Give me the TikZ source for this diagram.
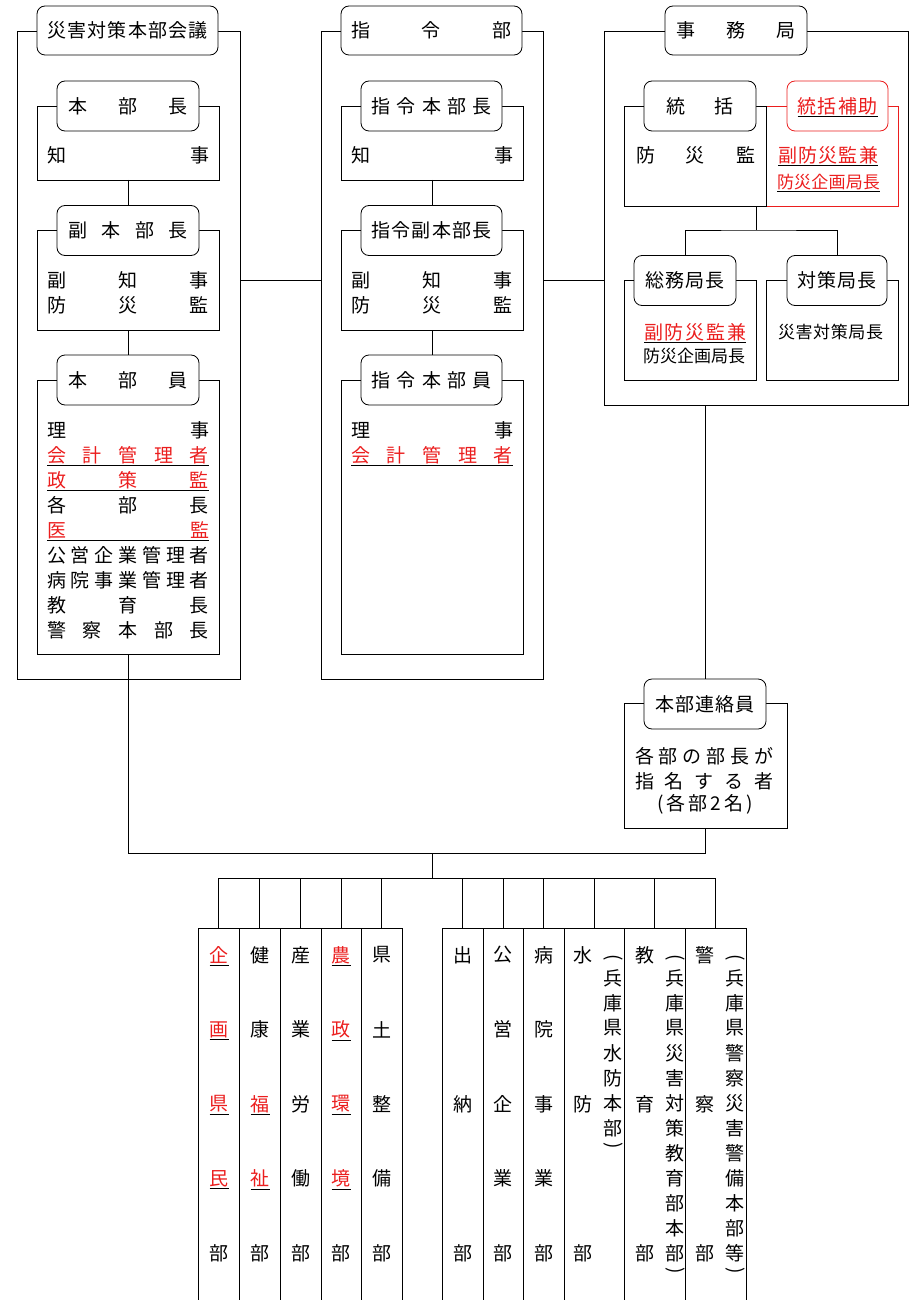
\documentclass[tikz,border=0pt]{standalone}
\usepackage{fontspec}
\newfontfamily\jpf{Noto Sans CJK JP}
\definecolor{jred}{RGB}{235,30,30}
\newcommand{\jsp}[2]{\hbox to #1{\jspi#2\jspend}}
\let\jspend\relax
\def\jspi#1{\ifx#1\jspend\else#1\expandafter\jspj\fi}
\def\jspj#1{\ifx#1\jspend\else\hfil#1\expandafter\jspj\fi}
\begin{document}
\begin{tikzpicture}[x=1pt,y=-1pt,line width=0.8pt,
 box/.style={draw,inner sep=0pt,outer sep=0pt},
 tag/.style={draw,fill=white,rounded corners=8pt,inner sep=0pt,outer sep=0pt,minimum height=50pt},
 txt/.style={inner sep=0pt,outer sep=0pt,font=\jpf\fontsize{19pt}{25pt}\selectfont},
 sm/.style={font=\jpf\fontsize{17pt}{22pt}\selectfont},
 rt/.style={text=jred},
 ul/.style={append after command={([yshift=-2pt]\tikzlastnode.south west) edge[draw=black,line width=0.8pt] ([yshift=-2pt]\tikzlastnode.south east)}},
 redu/.style={rt,ul},
 blk/.style={}]
\useasboundingbox (0,0) rectangle (921,1300);
% frames
\node[box,minimum width=223pt,minimum height=648pt] (F1) at (128.5,355) {};
\node[box,minimum width=222pt,minimum height=648pt] (F2) at (432,355) {};
\node[box,minimum width=304pt,minimum height=374pt] (F3) at (756,218) {};
% left rects
\node[box,minimum width=182pt,minimum height=74pt] (R1a) at (128,143) {};
\node[box,minimum width=182pt,minimum height=100pt] (R1b) at (128,280) {};
\node[box,minimum width=182pt,minimum height=274pt] (R1c) at (128,517) {};
% middle rects
\node[box,minimum width=182pt,minimum height=74pt] (R2a) at (432,143) {};
\node[box,minimum width=182pt,minimum height=100pt] (R2b) at (432,280) {};
\node[box,minimum width=182pt,minimum height=274pt] (R2c) at (432,517) {};
% right rects
\node[box,draw=jred,minimum width=132pt,minimum height=100pt] (R3b) at (832,156) {};
\node[box,minimum width=142pt,minimum height=100pt] (R3a) at (695,156) {};
\node[box,minimum width=132pt,minimum height=100pt] (R3c) at (690,330) {};
\node[box,minimum width=132pt,minimum height=100pt] (R3d) at (832,330) {};
\node[box,minimum width=163pt,minimum height=125pt] (R4) at (705.5,765.5) {};
% connectors
\draw (R1a.south) -- (128,206) coordinate (k1);
\draw (R1b.south) -- (128,355) coordinate (k2);
\draw (R2a.south) -- (432,206) coordinate (k3);
\draw (R2b.south) -- (432,355) coordinate (k4);
\draw (F1.east |- R1b.center) -- (F2.west |- R1b.center);
\draw (F2.east |- R2b.center) -- (F3.west |- R2b.center);
\coordinate (d1) at (756,230);
\draw (R3a.south -| d1) -- (d1);
\draw (685,256) |- (d1) -| (837,256);
\draw (F3.south -| R4.north) -- (705.5,680);
\coordinate (j1) at (432,853);
\coordinate (bus) at (432,878);
\draw (R4.south) |- (j1) -| (R1c.south);
\draw (j1) -- (bus);
% tags
\node[tag,txt,minimum width=181pt,minimum height=49pt] (T1) at (127.5,30.5) {\jsp{161pt}{災害対策本部会議}};
\node[tag,txt,minimum width=142pt] (T1a) at (128,106) {\jsp{120pt}{本部長}};
\node[tag,txt,minimum width=142pt] (T1b) at (128,230.5) {\jsp{120pt}{副本部長}};
\node[tag,txt,minimum width=142pt] (T1c) at (128,380) {\jsp{120pt}{本部員}};
\node[tag,txt,minimum width=181pt,minimum height=49pt] (T2) at (431.5,30.5) {\jsp{160pt}{指令部}};
\node[tag,txt,minimum width=141pt] (T2a) at (431.5,106) {\jsp{121pt}{指令本部長}};
\node[tag,txt,minimum width=141pt] (T2b) at (431.5,230.5) {\jsp{121pt}{指令副本部長}};
\node[tag,txt,minimum width=141pt] (T2c) at (431.5,380) {\jsp{121pt}{指令本部員}};
\node[tag,txt,minimum width=142pt,minimum height=49pt] (T3) at (736,30.5) {\jsp{119pt}{事務局}};
\node[tag,txt,minimum width=112pt] (T3a) at (700,106) {\jsp{68pt}{統括}};
\node[tag,draw=jred,minimum width=101pt] (T3b) at (837.5,106) {};
\node[txt,redu] (t3b) at (T3b.center) {\jsp{80pt}{統括補助}};
\node[tag,txt,minimum width=102pt] (T3c) at (685,280.5) {\jsp{79pt}{総務局長}};
\node[tag,txt,minimum width=100pt] (T3d) at (837,280.5) {\jsp{79pt}{対策局長}};
\node[tag,txt,minimum width=122pt] (T4) at (705,704) {\jsp{99pt}{本部連絡員}};
% left texts
\node[txt] (l1) at (128,155) {\jsp{162pt}{知事}};
\node[txt] (l2) at (128,280) {\jsp{162pt}{副知事}};
\node[txt] (l3) at (128,305) {\jsp{162pt}{防災監}};
\node[txt] (l4) at (128,430) {\jsp{162pt}{理事}};
\node[txt,redu] (l5) at (128,455) {\jsp{162pt}{会計管理者}};
\node[txt,redu] (l6) at (128,480) {\jsp{162pt}{政策監}};
\node[txt] (l7) at (128,505) {\jsp{162pt}{各部長}};
\node[txt,redu] (l8) at (128,530) {\jsp{162pt}{医監}};
\node[txt] (l9) at (128,555) {\jsp{162pt}{公営企業管理者}};
\node[txt] (l10) at (128,580) {\jsp{162pt}{病院事業管理者}};
\node[txt] (l11) at (128,605) {\jsp{162pt}{教育長}};
\node[txt] (l12) at (128,630) {\jsp{162pt}{警察本部長}};
% middle texts
\node[txt] (m1) at (432,155) {\jsp{162pt}{知事}};
\node[txt] (m2) at (432,280) {\jsp{162pt}{副知事}};
\node[txt] (m3) at (432,305) {\jsp{162pt}{防災監}};
\node[txt] (m4) at (432,430) {\jsp{162pt}{理事}};
\node[txt,redu] (m5) at (432,455) {\jsp{162pt}{会計管理者}};
% right texts
\node[txt] (r1) at (695.5,155) {\jsp{119pt}{防災監}};
\node[txt,redu] (r2) at (828,155) {\jsp{100pt}{副防災監兼}};
\node[txt,sm,redu] (r3) at (828.5,182) {\jsp{103pt}{防災企画局長}};
\node[txt,redu] (r4) at (695,332) {\jsp{102pt}{副防災監兼}};
\node[txt,sm] (r5) at (694,356) {\jsp{102pt}{防災企画局長}};
\node[txt,sm] (r6) at (830.5,332) {\jsp{105pt}{災害対策局長}};
\node[txt] (r7) at (704,756) {\jsp{138pt}{各部の部長が}};
\node[txt] (r8) at (704,781) {\jsp{138pt}{指名する者}};
\node[txt] (r9) at (705,804) {\jsp{96pt}{(各部2名)}};
% columns
\node[box,minimum width=41pt,minimum height=392pt] (c1) at (218.5,1124) {};
\node[box,minimum width=41pt,minimum height=392pt] (c2) at (259.5,1124) {};
\node[box,minimum width=41pt,minimum height=392pt] (c3) at (300.5,1124) {};
\node[box,minimum width=40pt,minimum height=392pt] (c4) at (341,1124) {};
\node[box,minimum width=41pt,minimum height=392pt] (c5) at (381.5,1124) {};
\node[box,minimum width=41pt,minimum height=392pt] (c6) at (462.5,1124) {};
\node[box,minimum width=40pt,minimum height=392pt] (c7) at (503,1124) {};
\node[box,minimum width=41pt,minimum height=392pt] (c8) at (543.5,1124) {};
\node[box,minimum width=60pt,minimum height=392pt] (c9) at (594,1124) {};
\node[box,minimum width=61pt,minimum height=392pt] (c10) at (654.5,1124) {};
\node[box,minimum width=61pt,minimum height=392pt] (c11) at (715.5,1124) {};
\draw (c1.north) |- (bus) -| (c11.north);
\foreach \c in {c2,c3,c4,c5,c6,c7,c8,c9,c10} \draw (\c.north) -- (\c.north |- bus);
% column texts
\foreach \ch/\st [count=\i from 0] in {企/redu,画/redu,県/redu,民/redu,部/blk}
  \node[txt,\st] (a\i) at (219,{955+74.5*\i}) {\ch};
\foreach \ch/\st [count=\i from 0] in {健/blk,康/blk,福/redu,祉/redu,部/blk}
  \node[txt,\st] (b\i) at (260,{955+74.5*\i}) {\ch};
\foreach \ch [count=\i from 0] in {産,業,労,働,部}
  \node[txt] (e\i) at (300.5,{955+74.5*\i}) {\ch};
\foreach \ch/\st [count=\i from 0] in {農/redu,政/redu,環/redu,境/redu,部/blk}
  \node[txt,\st] (f\i) at (341,{955+74.5*\i}) {\ch};
\foreach \ch [count=\i from 0] in {県,土,整,備,部}
  \node[txt] (g\i) at (381.5,{955+74.5*\i}) {\ch};
\foreach \ch [count=\i from 0] in {出,,納,,部}
  \node[txt] (h\i) at (462.5,{955+74.5*\i}) {\ch};
\foreach \ch [count=\i from 0] in {公,営,企,業,部}
  \node[txt] (p\i) at (503,{955+74.5*\i}) {\ch};
\foreach \ch [count=\i from 0] in {病,院,事,業,部}
  \node[txt] (q\i) at (543.5,{955+74.5*\i}) {\ch};
\foreach \ch [count=\i from 0] in {水,,防,,部}
  \node[txt] (s\i) at (583,{955+74.5*\i}) {\ch};
\foreach \ch [count=\i from 0] in {教,,育,,部}
  \node[txt] (u\i) at (645,{955+74.5*\i}) {\ch};
\foreach \ch [count=\i from 0] in {警,,察,,部}
  \node[txt] (v\i) at (705,{955+74.5*\i}) {\ch};
% parenthetical vertical notes
\node[txt,rotate=-90] (s0p) at (613,958) {(};
\foreach \ch [count=\i from 0] in {兵,庫,県,水,防,本,部}
  \node[txt] (sx\i) at (613,{978+25*\i}) {\ch};
\node[txt,rotate=-90] (s1p) at (613,1146) {)};
\node[txt,rotate=-90] (u0p) at (675,958) {(};
\foreach \ch [count=\i from 0] in {兵,庫,県,災,害,対,策,教,育,部,本,部}
  \node[txt] (ux\i) at (675,{978+25*\i}) {\ch};
\node[txt,rotate=-90] (u1p) at (675,1271) {)};
\node[txt,rotate=-90] (v0p) at (735,958) {(};
\foreach \ch [count=\i from 0] in {兵,庫,県,警,察,災,害,警,備,本,部,等}
  \node[txt] (vx\i) at (735,{978+25*\i}) {\ch};
\node[txt,rotate=-90] (v1p) at (735,1271) {)};
\end{tikzpicture}
\end{document}
